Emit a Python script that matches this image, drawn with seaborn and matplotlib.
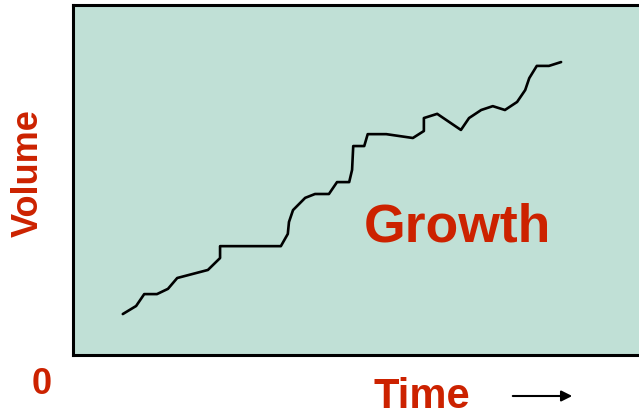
import matplotlib
matplotlib.use("Agg")
import matplotlib.pyplot as plt
import seaborn as sns
import pandas as pd

sns.set_theme(style="white")
plt.rcParams["font.family"] = ["Liberation Sans", "DejaVu Sans"]

# Volume over time (arbitrary units, axis spans 0-100 on both scales)
time = [8.6, 10.9, 12.3, 14.5, 16.4, 18.0, 23.3, 25.4, 25.4, 35.9, 37.1, 37.3,
        38.0, 40.1, 41.8, 44.2, 45.6, 47.7, 48.2, 48.4, 50.3, 50.9, 54.1, 58.7,
        60.6, 60.6, 62.9, 67.0, 68.4, 70.5, 72.5, 74.6, 76.7, 78.1, 78.8, 80.1,
        82.2, 84.3]
volume = [11.7, 14.0, 17.4, 17.4, 18.9, 22.0, 24.3, 27.7, 31.1, 31.1, 34.6, 38.0,
          41.4, 44.9, 46.0, 46.0, 49.4, 49.4, 52.9, 59.7, 59.7, 63.1, 63.1, 62.0,
          64.0, 67.7, 68.9, 64.3, 67.7, 70.0, 71.1, 70.0, 72.3, 75.7, 79.1, 82.6,
          82.6, 83.7]

df = pd.DataFrame({"Time": time, "Volume": volume})

red = "#cc2200"
fig = plt.figure(figsize=(6.39, 4.20), dpi=100)
ax = fig.add_axes([73 / 639, 1 - 355 / 420, 579 / 639, 350 / 420])
ax.set_facecolor("#c0e0d6")

sns.lineplot(data=df, x="Time", y="Volume", sort=False, estimator=None,
             color="black", linewidth=1.9, ax=ax)

ax.set_xlim(0, 100)
ax.set_ylim(0, 100)
ax.set_xticks([])
ax.set_yticks([])
ax.set_xlabel("")
ax.set_ylabel("")
for s in ax.spines.values():
    s.set_color("black")
    s.set_linewidth(2.2)

ax.text(0.664, 0.365, "Growth", transform=ax.transAxes, color=red,
        fontsize=38.5, fontweight="bold", ha="center", va="center")

fig.text(28 / 639, 1 - 173 / 420, "Volume", rotation=90, color=red,
         fontsize=26, fontweight="bold", ha="center", va="center")
fig.text(42 / 639, 1 - 385 / 420, "0", color=red,
         fontsize=26, fontweight="bold", ha="center", va="center")
fig.text(422 / 639, 1 - 397 / 420, "Time", color=red,
         fontsize=30, fontweight="bold", ha="center", va="center")
fig.patches.append(matplotlib.patches.FancyArrowPatch(
    (510 / 639, 1 - 396 / 420), (575 / 639, 1 - 396 / 420),
    transform=fig.transFigure, arrowstyle="-|>", mutation_scale=16,
    color="black", linewidth=1.5))

fig.savefig("out.png", dpi=100)
